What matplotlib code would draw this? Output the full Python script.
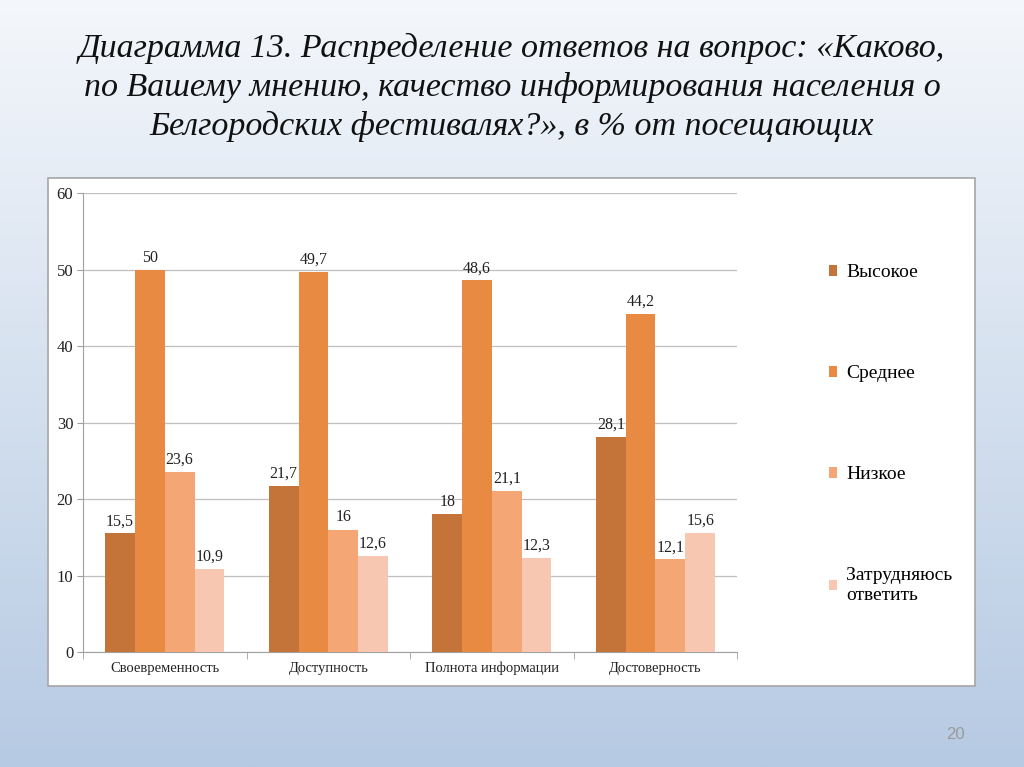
import numpy as np
import matplotlib.pyplot as plt
from matplotlib.patches import Rectangle

# Data
categories = ['Своевременность', 'Доступность', 'Полнота информации', 'Достоверность']
series_names = ['Высокое', 'Среднее', 'Низкое', 'Затрудняюсь\nответить']
vysokoe = [15.5, 21.7, 18, 28.1]
srednee = [50, 49.7, 48.6, 44.2]
nizkoe = [23.6, 16, 21.1, 12.1]
zatrud = [10.9, 12.6, 12.3, 15.6]
colors = ['#C47438', '#E98A42', '#F5A675', '#F8C7B1']

title = ('Диаграмма 13. Распределение ответов на вопрос: «Каково,\n'
         'по Вашему мнению, качество информирования населения о\n'
         'Белгородских фестивалях?», в % от посещающих')

serif = ['Liberation Serif', 'DejaVu Serif']

fig = plt.figure(figsize=(10.24, 7.67), dpi=100)

# slide background gradient
bg = fig.add_axes([0, 0, 1, 1], zorder=-10)
grad = np.linspace(0, 1, 256)[:, None]
top = np.array([244, 247, 251]) / 255
bottom = np.array([182, 202, 227]) / 255
img = top + (bottom - top) * grad[:, :, None]
bg.imshow(np.repeat(img, 2, axis=1), aspect='auto', extent=[0, 1, 0, 1])
bg.set_xlim(0, 1)
bg.set_ylim(0, 1)
bg.axis('off')

# white chart box
bg.add_patch(Rectangle((0.047, 0.106), 0.905, 0.662, facecolor='white',
                       edgecolor='#A6A6A6', lw=1.2, zorder=2))

fig.text(0.5, 0.886, title, ha='center', va='center', fontsize=24.5,
         style='italic', family=serif, linespacing=1.35, color='#111111')
fig.text(0.9335, 0.042, '20', ha='center', va='center', fontsize=12,
         color='#9A9A9A', family='Liberation Sans')

ax = fig.add_axes([0.081, 0.150, 0.639, 0.598])
x = np.arange(len(categories))
w = 0.182
data = [vysokoe, srednee, nizkoe, zatrud]
for i, (vals, name) in enumerate(zip(data, series_names)):
    pos = x + (i - 1.5) * w
    bars = ax.bar(pos, vals, width=w, color=colors[i], label=name, zorder=3)
    for b, v in zip(bars, vals):
        txt = f'{v:g}'.replace('.', ',')
        ax.annotate(txt, (b.get_x() + b.get_width() / 2, v), xytext=(0, 3),
                    textcoords='offset points', ha='center', va='bottom',
                    fontsize=11.5, family=serif, color='#222222')

ax.set_xlim(-0.5, len(categories) - 0.5)
ax.set_ylim(0, 60)
ax.set_yticks(range(0, 61, 10))
ax.grid(axis='y', color='#BFBFBF', lw=0.9, zorder=0)
ax.set_xticks(x)
ax.set_xticklabels(categories, family=serif, fontsize=10.5, color='#222222')
ax.set_xticks(np.arange(-0.5, len(categories), 1), minor=True)
ax.tick_params(axis='x', which='major', length=0, pad=7)
ax.tick_params(axis='x', which='minor', length=5, color='#A0A0A0')
ax.tick_params(axis='y', length=4, color='#A0A0A0', labelsize=12, pad=3)
for lab in ax.get_yticklabels():
    lab.set_family(serif)
    lab.set_color('#222222')
for s in ['top', 'right']:
    ax.spines[s].set_visible(False)
ax.spines['left'].set_color('#A0A0A0')
ax.spines['bottom'].set_color('#A0A0A0')
ax.set_facecolor('none')

leg = fig.legend(loc='center left', bbox_to_anchor=(0.792, 0.434), frameon=False,
                 prop={'family': serif, 'size': 14}, handlelength=0.45,
                 handleheight=0.45, handletextpad=0.45, labelspacing=4.32)

fig.savefig('out.png', dpi=100)
